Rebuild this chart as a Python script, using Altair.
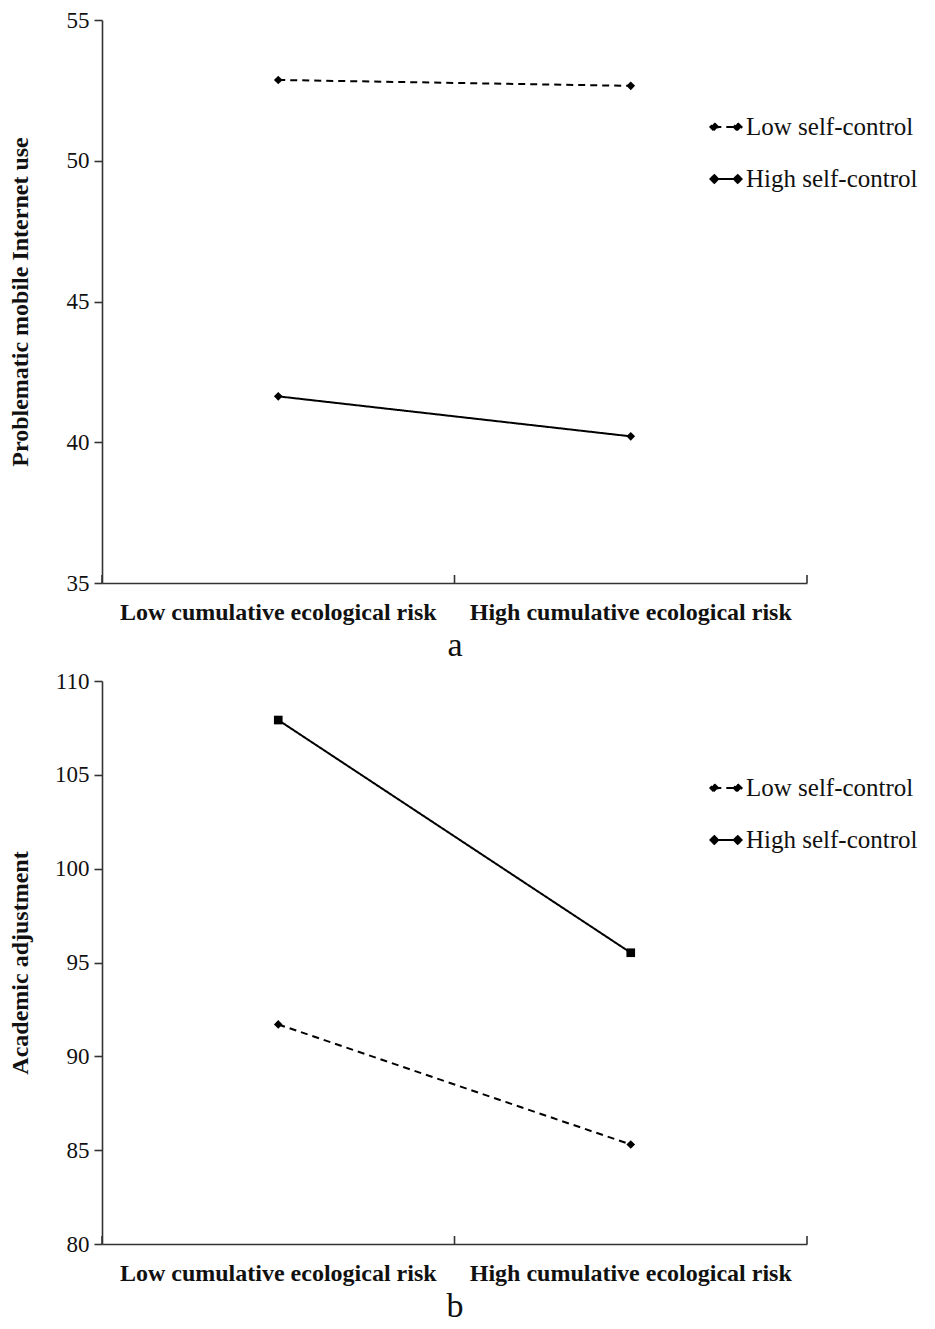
import altair as alt
import pandas as pd

# ---- data ----
risk = ["Low cumulative ecological risk", "High cumulative ecological risk"]
groups = ["Low self-control", "High self-control"]

piu_low_sc = [52.87, 52.66]
piu_high_sc = [41.63, 40.21]

acad_low_sc = [91.70, 85.30]
acad_high_sc = [107.92, 95.52]

piu_ticks = [35, 40, 45, 50, 55]
acad_ticks = [80, 85, 90, 95, 100, 105, 110]


def make_df(low_vals, high_vals):
    rows = []
    for r, v in zip(risk, low_vals):
        rows.append({"risk": r, "group": groups[0], "value": v})
    for r, v in zip(risk, high_vals):
        rows.append({"risk": r, "group": groups[1], "value": v})
    return pd.DataFrame(rows)


W, H = 705, 563
SERIF = "Liberation Serif"
LEGEND_PATH_DIAMONDS = (
    "M-0.78,-0.26L-0.52,0L-0.78,0.26L-1.04,0Z"
    "M0.78,-0.26L1.04,0L0.78,0.26L0.52,0Z"
    "M-0.78,0L0.78,0"
)


def panel(df, ytitle, ydomain, yticks, label, shapes):
    xscale = alt.Scale(type="band", domain=risk, paddingInner=0, paddingOuter=0)
    xaxis = alt.Axis(
        labelAngle=0, ticks=False, tickSize=0, labelPadding=17, labelLimit=500,
        labelFont=SERIF, labelFontSize=24, labelFontWeight="bold",
        labelColor="#111", domainColor="#333", domainWidth=1.6,
        title=label, titleFont=SERIF, titleFontSize=34,
        titleFontWeight="normal", titleColor="#111", titlePadding=4,
        grid=False,
    )
    yscale = alt.Scale(domain=ydomain, nice=False, zero=False)
    yaxis = alt.Axis(
        values=yticks, tickSize=8, tickColor="#333", tickWidth=1.6,
        domainColor="#333", domainWidth=1.6, labelPadding=5,
        labelFont=SERIF, labelFontSize=23, labelColor="#111",
        title=ytitle, titleFont=SERIF, titleFontSize=24,
        titleFontWeight="bold", titleColor="#111",
        minExtent=52, maxExtent=52, titlePadding=18, grid=False,
    )
    base = alt.Chart(df)
    line = base.mark_line(color="black", strokeWidth=2).encode(
        x=alt.X("risk:N", scale=xscale, axis=xaxis, sort=risk),
        y=alt.Y("value:Q", scale=yscale, axis=yaxis),
        strokeDash=alt.StrokeDash(
            "group:N",
            scale=alt.Scale(domain=groups, range=[[7, 5], [1, 0]]),
            legend=alt.Legend(
                title=None, orient="none", legendX=608, legendY=91,
                symbolType=LEGEND_PATH_DIAMONDS, symbolSize=900,
                symbolStrokeWidth=2, symbolStrokeColor="black",
                symbolFillColor="black",
                labelFont=SERIF, labelFontSize=25, labelColor="#111",
                labelOffset=4, rowPadding=23, labelLimit=400,
            ),
        ),
        detail="group:N",
    )
    layers = [line]
    for g, shp in zip(groups, shapes):
        layers.append(
            base.transform_filter(alt.datum.group == g)
            .mark_point(filled=True, color="black", size=75, opacity=1, shape=shp)
            .encode(
                x=alt.X("risk:N", scale=xscale, sort=risk),
                y=alt.Y("value:Q", scale=yscale),
            )
        )
    tick_df = pd.DataFrame({"risk": risk})
    ticks_start = alt.Chart(tick_df).mark_rule(color="#333", strokeWidth=1.6).encode(
        x=alt.X("risk:N", scale=xscale, bandPosition=0),
        y=alt.value(H),
        y2=alt.value(H - 8),
    )
    ticks_end = alt.Chart(tick_df).transform_filter(
        alt.datum.risk == risk[-1]
    ).mark_rule(color="#333", strokeWidth=1.6).encode(
        x=alt.X("risk:N", scale=xscale, bandPosition=1),
        y=alt.value(H),
        y2=alt.value(H - 8),
    )
    layers += [ticks_start, ticks_end]
    return alt.layer(*layers).properties(width=W, height=H)


pa = panel(make_df(piu_low_sc, piu_high_sc), "Problematic mobile Internet use",
           [35, 55], piu_ticks, "a", ["diamond", "diamond"])
pb = panel(make_df(acad_low_sc, acad_high_sc), "Academic adjustment",
           [80, 110], acad_ticks, "b", ["diamond", "square"])

chart = alt.vconcat(pa, pb, spacing=8).resolve_scale(
    strokeDash="independent", x="independent", y="independent"
).properties(
    padding={"left": 0, "top": 1, "right": 0, "bottom": 0},
    background="white",
).configure_view(stroke=None)

chart.save("out.html", embed_options={"renderer": "svg", "actions": False})
